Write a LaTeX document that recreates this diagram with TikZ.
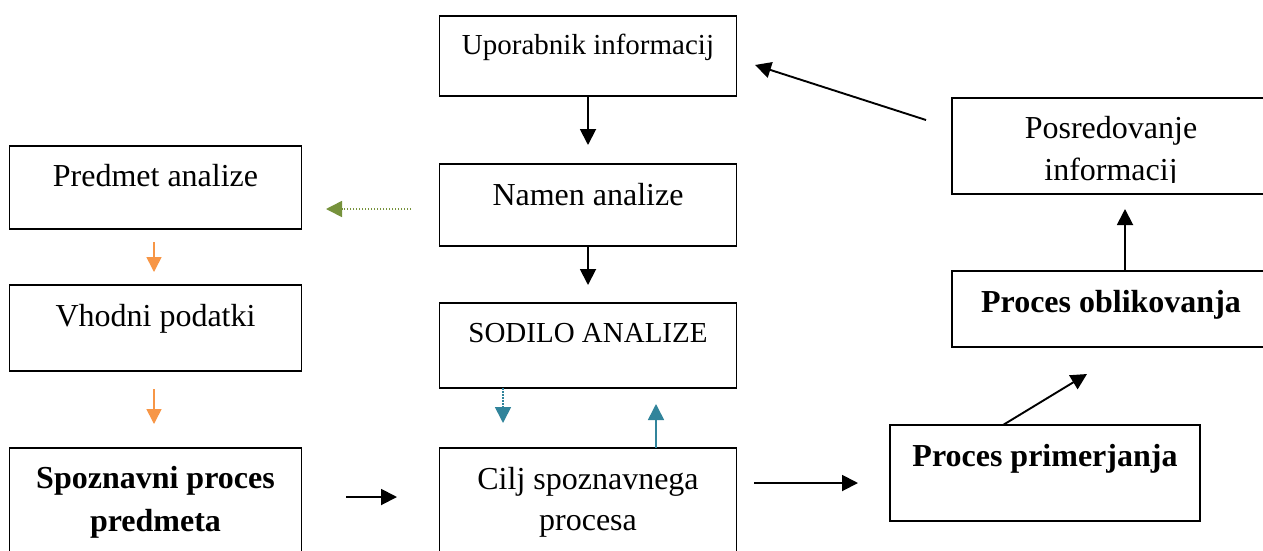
\documentclass[tikz,border=0pt]{standalone}
\usepackage{fontspec}
\setmainfont{Liberation Serif}
\usetikzlibrary{arrows.meta}
\definecolor{olivegr}{HTML}{76923C}
\definecolor{orangeac}{HTML}{F79646}
\definecolor{tealac}{HTML}{31849B}
\begin{document}
\begin{tikzpicture}[x=1pt,y=-1pt,
  box/.style={draw, line width=1.9pt, rectangle, inner sep=0pt},
  txt/.style={anchor=base, inner sep=0pt, font=\fontsize{32}{38}\selectfont},
  txtsm/.style={anchor=base, inner sep=0pt, font=\fontsize{29}{35}\selectfont},
  txtb/.style={anchor=base, inner sep=0pt, font=\fontsize{32}{38}\selectfont\bfseries},
  arr/.style={line width=1.9pt, -{Triangle[length=16pt,width=16pt]}},
  oarr/.style={line width=1.6pt, draw=orangeac, -{Triangle[length=15pt,width=15pt,fill=orangeac]}},
  tarr/.style={line width=1.6pt, draw=tealac, -{Triangle[length=16pt,width=16pt,fill=tealac]}},
  dots/.style={dash pattern=on 1.5pt off 1.5pt}
]
\clip (0,0) rectangle (1263,550);
\fill[white] (0,0) rectangle (1263,550);

% centre column
\node[box, minimum width=297pt, minimum height=80pt] (U) at (588,56) {};
\node[txtsm] (tU) at (588,54) {Uporabnik informacij};
\node[box, minimum width=297pt, minimum height=82pt] (N) at (588,205) {};
\node[txt] (tN) at (588,205) {Namen analize};
\node[box, minimum width=297pt, minimum height=85pt] (S) at (588,345.5) {};
\node[txtsm] (tS) at (588,342) {SODILO ANALIZE};
\node[box, minimum width=297pt, minimum height=130pt] (C) at (588,513) {};
\node[txt] (tC1) at (588,489) {Cilj spoznavnega};
\node[txt] (tC2) at (588,530) {procesa};

% left column
\node[box, minimum width=292pt, minimum height=83pt] (P) at (155.5,187.5) {};
\node[txt] (tP) at (155.5,186) {Predmet analize};
\node[box, minimum width=292pt, minimum height=86pt] (V) at (155.5,328) {};
\node[txt] (tV) at (155.5,326) {Vhodni podatki};
\node[box, minimum width=292pt, minimum height=130pt] (K) at (155.5,513) {};
\node[txtb] (tK1) at (155.5,488) {Spoznavni proces};
\node[txtb] (tK2) at (155.5,531) {predmeta};

% right column
\node[box, minimum width=312pt, minimum height=96pt] (R) at (1108,146) {};
\begin{scope}
  \clip (950,98) rectangle (1270,182);
  \node[txt] (tR1) at (1111,138) {Posredovanje};
  \node[txt] (tR2) at (1111,180) {informacij};
\end{scope}
\node[box, minimum width=312pt, minimum height=76pt] (O) at (1108,309) {};
\node[txtb] (tO) at (1111,312) {Proces oblikovanja};
\node[box, minimum width=310pt, minimum height=96pt] (M) at (1045,473) {};
\node[txtb] (tM) at (1045,466) {Proces primerjanja};

% free arrow ends
\coordinate (a1) at (588,145);
\coordinate (a2) at (588,285);
\coordinate (g1) at (411,209);
\coordinate (g2) at (326,209);
\coordinate (o1) at (154,242);
\coordinate (o2) at (154,272);
\coordinate (o3) at (154,389);
\coordinate (o4) at (154,424);
\coordinate (t1) at (503,388);
\coordinate (t2) at (503,423);
\coordinate (t3) at (656,448);
\coordinate (t4) at (656,404);
\coordinate (k1) at (346,497);
\coordinate (k2) at (397,497);
\coordinate (c1) at (754,483);
\coordinate (c2) at (858,483);
\coordinate (m1) at (1003,425);
\coordinate (m2) at (1087,374);
\coordinate (r1) at (1125,271);
\coordinate (r2) at (1125,209);
\coordinate (u1) at (926,120);
\coordinate (u2) at (755,65);

\draw[arr] (U.south) -- (a1);
\draw[arr] (N.south) -- (a2);
\draw[line width=1.6pt, draw=olivegr, dots, -{Triangle[length=16pt,width=16pt,fill=olivegr]}] (g1) -- (g2);
\draw[oarr] (o1) -- (o2);
\draw[oarr] (o3) -- (o4);
\draw[tarr, dots] (t1) -- (t2);
\draw[tarr] (t3) -- (t4);
\draw[arr] (k1) -- (k2);
\draw[arr] (c1) -- (c2);
\draw[arr] (m1) -- (m2);
\draw[arr] (r1) -- (r2);
\draw[arr] (u1) -- (u2);
\end{tikzpicture}
\end{document}
